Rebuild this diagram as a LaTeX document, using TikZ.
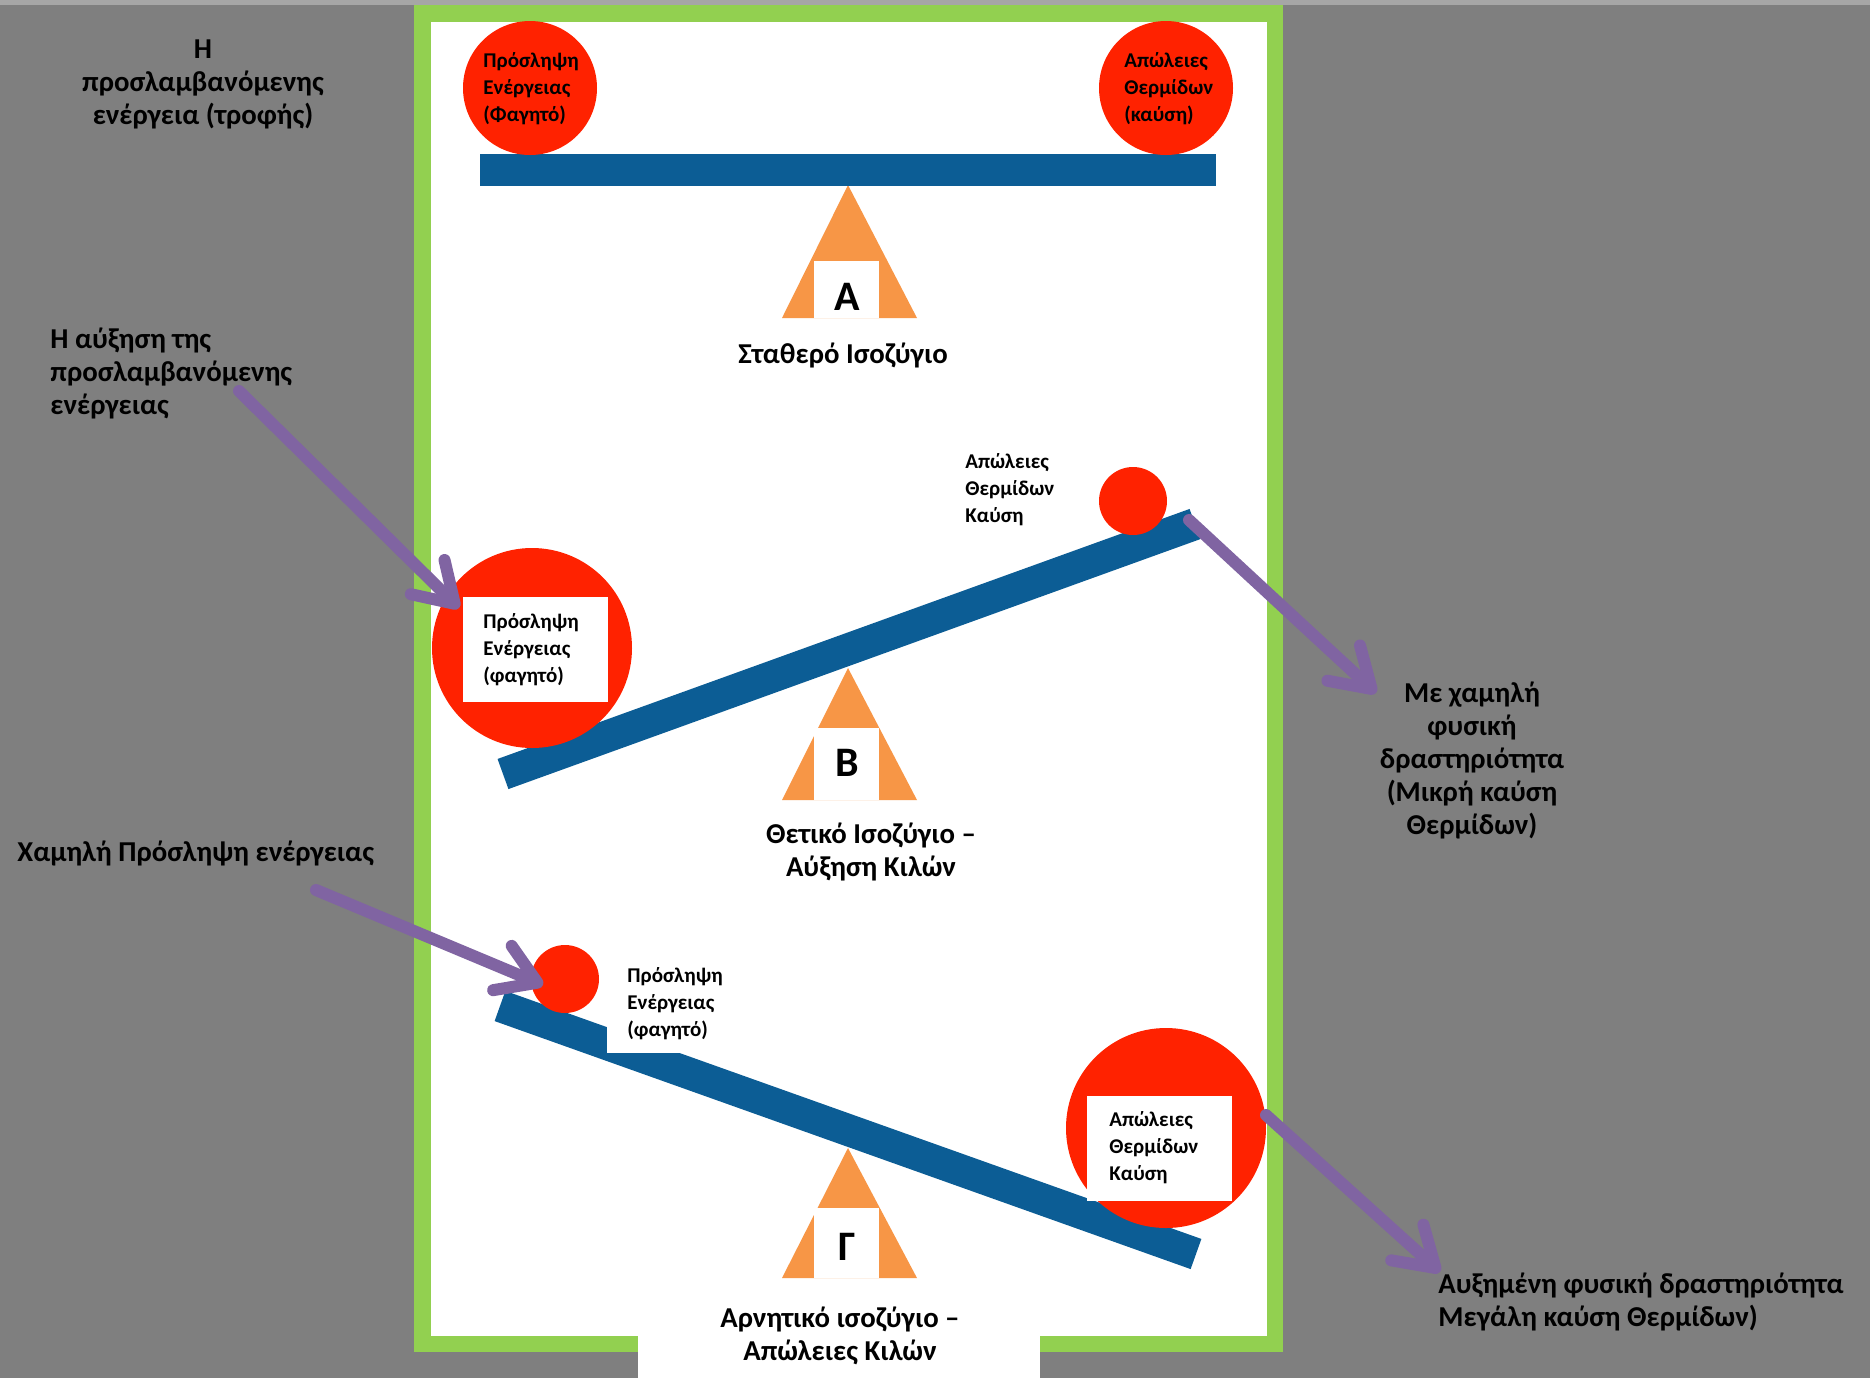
\documentclass[tikz,border=0pt]{standalone}
\usepackage{fontspec}
\setmainfont{Carlito}
\usetikzlibrary{arrows.meta}
\definecolor{bg}{HTML}{7F7F7F}
\definecolor{topgray}{HTML}{A6A6A6}
\definecolor{frameg}{HTML}{92D050}
\definecolor{ballred}{HTML}{FF2200}
\definecolor{barblue}{HTML}{0C5D95}
\definecolor{fulcrum}{HTML}{F79646}
\definecolor{arrowpurple}{HTML}{8064A2}
\begin{document}
\begin{tikzpicture}[x=0.5pt,y=-0.5pt,
  bigtxt/.style={font=\bfseries\fontsize{14.4}{16.5}\selectfont, inner sep=0pt, text=black},
  smalltxt/.style={font=\bfseries\fontsize{10.5}{13.5}\selectfont, inner sep=0pt, align=left, anchor=west, text=black},
  letter/.style={font=\bfseries\fontsize{21}{24}\selectfont, inner sep=0pt},
  ball/.style={circle, fill=ballred, inner sep=0pt, minimum size=#1},
  bar/.style={draw=barblue, line width=16pt},
  whitebox/.style={fill=white},
  pointer/.style={draw=arrowpurple, line width=6pt, line cap=round,
     -{Straight Barb[length=19pt, width=24pt, round]}}
]
\useasboundingbox (0,0) rectangle (1870,1378);
\fill[bg] (0,0) rectangle (1870,1378);
\fill[topgray] (0,0) rectangle (1870,5);
% frame
\fill[frameg] (414,5) rectangle (1283,1352);
\fill[white] (431,22) rectangle (1267,1336);

% ---------- A ----------
\fill[fulcrum] (848,185) -- (917,318) -- (782,318) -- cycle;
\fill[barblue] (480,154) rectangle (1216,186);
\node[ball=67pt] (a1) at (530,88) {};
\node[ball=67pt] (a2) at (1166,88) {};
\node[smalltxt] (ta1) at (483,89) {Πρόσληψη\\Ενέργειας\\(Φαγητό)};
\node[smalltxt] (ta2) at (1124,89) {Απώλειες\\Θερμίδων\\(καύση)};
\fill[white] (814,261) rectangle (879,318);
\node[letter] (la) at (847,297) {Α};
\node[bigtxt] (ca) at (843,355) {Σταθερό Ισοζύγιο};

% ---------- B ----------
\fill[fulcrum] (848,668) -- (917,800) -- (782,800) -- cycle;
\draw[bar] (503,774) -- (1195,524);
\node[ball=34pt] (b2) at (1133,501) {};
\node[ball=100pt] (b1) at (532,648) {};
\fill[white] (463,597) rectangle (608,702);
\node[smalltxt] (tb1) at (483,650) {Πρόσληψη\\Ενέργειας\\(φαγητό)};
\node[smalltxt] (tb2) at (965,490) {Απώλειες\\Θερμίδων\\Καύση};
\fill[white] (814,728) rectangle (879,800);
\node[letter] (lb) at (847,763) {Β};
\node[bigtxt, align=center] (cb) at (871,852) {Θετικό Ισοζύγιο –\\Αύξηση Κιλών};

% ---------- Γ ----------
\fill[fulcrum] (848,1148) -- (917,1278) -- (782,1278) -- cycle;
\draw[bar] (500,1006) -- (1196,1254);
\node[ball=34pt] (g1) at (565,979) {};
\node[ball=100pt] (g2) at (1166,1128) {};
\fill[white] (607,955) rectangle (725,1053);
\node[smalltxt] (tg1) at (627,1004) {Πρόσληψη\\Ενέργειας\\(φαγητό)};
\fill[white] (1087,1096) rectangle (1232,1201);
\node[smalltxt] (tg2) at (1109,1148) {Απώλειες\\Θερμίδων\\Καύση};
\fill[white] (814,1208) rectangle (879,1278);
\node[letter] (lg) at (847,1247) {Γ};
\fill[white] (638,1322) rectangle (1040,1378);
\node[bigtxt, align=center] (cg) at (840,1336) {Αρνητικό ισοζύγιο –\\Απώλειες Κιλών};

% ---------- side labels ----------
\node[bigtxt, align=center] (l1) at (203,84) {Η\\προσλαμβανόμενης\\ενέργεια (τροφής)};
\node[bigtxt, align=left, anchor=west] (l2) at (50,373) {Η αύξηση της\\προσλαμβανόμενης\\ενέργειας};
\node[bigtxt, anchor=west] (l3) at (17,853) {Χαμηλή Πρόσληψη ενέργειας};
\node[bigtxt, align=center] (r1) at (1472,760) {Με χαμηλή\\φυσική\\δραστηριότητα\\(Μικρή καύση\\Θερμίδων)};
\node[bigtxt, align=left, anchor=west] (r2) at (1438,1302) {Αυξημένη φυσική δραστηριότητα\\Μεγάλη καύση Θερμίδων)};

% ---------- arrows ----------
\coordinate (p1s) at (239,391);
\coordinate (p1e) at (459,608);
\coordinate (p2s) at (316,890);
\coordinate (p2e) at (543,985);
\coordinate (p3s) at (1189,520);
\coordinate (p3e) at (1376,693);
\coordinate (p4s) at (1266,1115);
\coordinate (p4e) at (1440,1272);
\draw[pointer] (p1s) -- (p1e);
\draw[pointer] (p2s) -- (p2e);
\draw[pointer] (p3s) -- (p3e);
\draw[pointer] (p4s) -- (p4e);
\end{tikzpicture}
\end{document}
